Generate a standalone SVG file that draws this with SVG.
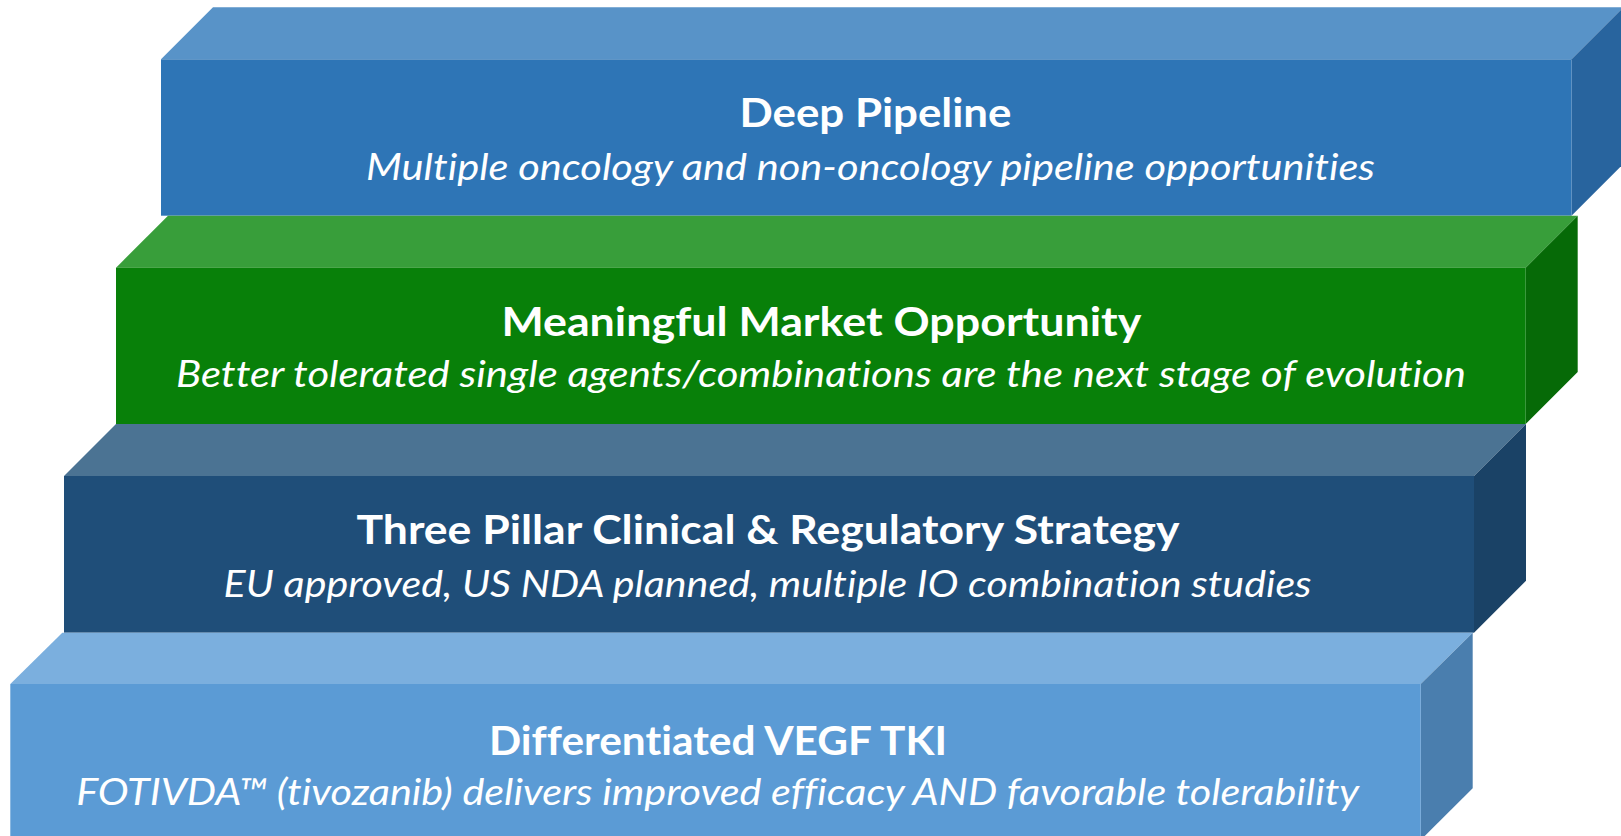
<svg xmlns="http://www.w3.org/2000/svg" width="1621" height="836" viewBox="0 0 1621 836">
  <style>
    text { font-variant-ligatures: none; font-feature-settings: "liga" 0, "clig" 0; }
    .title { font-family: Lato, "Open Sans", "Liberation Sans", sans-serif; font-weight: 700; font-size: 41px; fill: #ffffff; text-anchor: middle; }
    .sub { font-family: Lato, "Open Sans", "Liberation Sans", sans-serif; font-style: italic; font-size: 37px; fill: #ffffff; text-anchor: middle; }
  </style>
  <rect width="1621" height="836" fill="#ffffff"/>

  <!-- Step 1: Deep Pipeline -->
  <g id="deep-pipeline">
    <polygon points="161,59.3 213,7.3 1623.5,7.3 1571.5,59.3" fill="#5893C8"/>
    <polygon points="1571.5,59.3 1623.5,7.3 1623.5,163.7 1571.5,215.7" fill="#28649E"/>
    <rect x="161" y="59.3" width="1410.5" height="156.4" fill="#2E75B6"/>
    <text class="title" x="875.5" y="126.7" textLength="272" lengthAdjust="spacingAndGlyphs">Deep Pipeline</text>
    <text class="sub" x="870.5" y="180" textLength="1009" lengthAdjust="spacingAndGlyphs">Multiple oncology and non-oncology pipeline opportunities</text>
  </g>

  <!-- Step 2: Meaningful Market Opportunity -->
  <g id="market-opportunity">
    <polygon points="116,267.7 168,215.7 1577.7,215.7 1525.7,267.7" fill="#389E3A"/>
    <polygon points="1525.7,267.7 1577.7,215.7 1577.7,372 1525.7,424" fill="#066A07"/>
    <rect x="116" y="267.7" width="1409.7" height="156.3" fill="#088009"/>
    <text class="title" x="821.4" y="335.5" textLength="640" lengthAdjust="spacingAndGlyphs">Meaningful Market Opportunity</text>
    <text class="sub" x="821" y="387.3" textLength="1290" lengthAdjust="spacingAndGlyphs">Better tolerated single agents/combinations are the next stage of evolution</text>
  </g>

  <!-- Step 3: Three Pillar Clinical & Regulatory Strategy -->
  <g id="clinical-strategy">
    <polygon points="64,476 116,424 1526,424 1474,476" fill="#4B7393"/>
    <polygon points="1474,476 1526,424 1526,580.7 1474,632.7" fill="#1A4266"/>
    <rect x="64" y="476" width="1410" height="156.7" fill="#1F4E79"/>
    <text class="title" x="768" y="544" textLength="823" lengthAdjust="spacingAndGlyphs">Three Pillar Clinical &amp; Regulatory Strategy</text>
    <text class="sub" x="767.6" y="596.5" textLength="1088" lengthAdjust="spacingAndGlyphs">EU approved, US NDA planned, multiple IO combination studies</text>
  </g>

  <!-- Step 4: Differentiated VEGF TKI -->
  <g id="vegf-tki">
    <polygon points="10.3,684 62.3,632.7 1472.7,632.7 1420.7,684" fill="#7BAFDE"/>
    <polygon points="1420.7,684 1472.7,632.7 1472.7,788.3 1420.7,840" fill="#4A7EAE"/>
    <rect x="10.3" y="684" width="1410.4" height="156" fill="#5B9BD5"/>
    <text class="title" x="718" y="755" textLength="458" lengthAdjust="spacingAndGlyphs">Differentiated VEGF TKI</text>
    <text class="sub" x="717.7" y="805" textLength="1283" lengthAdjust="spacingAndGlyphs">FOTIVDA™ (tivozanib) delivers improved efficacy AND favorable tolerability</text>
  </g>

  <g id="connectors"/>
</svg>
